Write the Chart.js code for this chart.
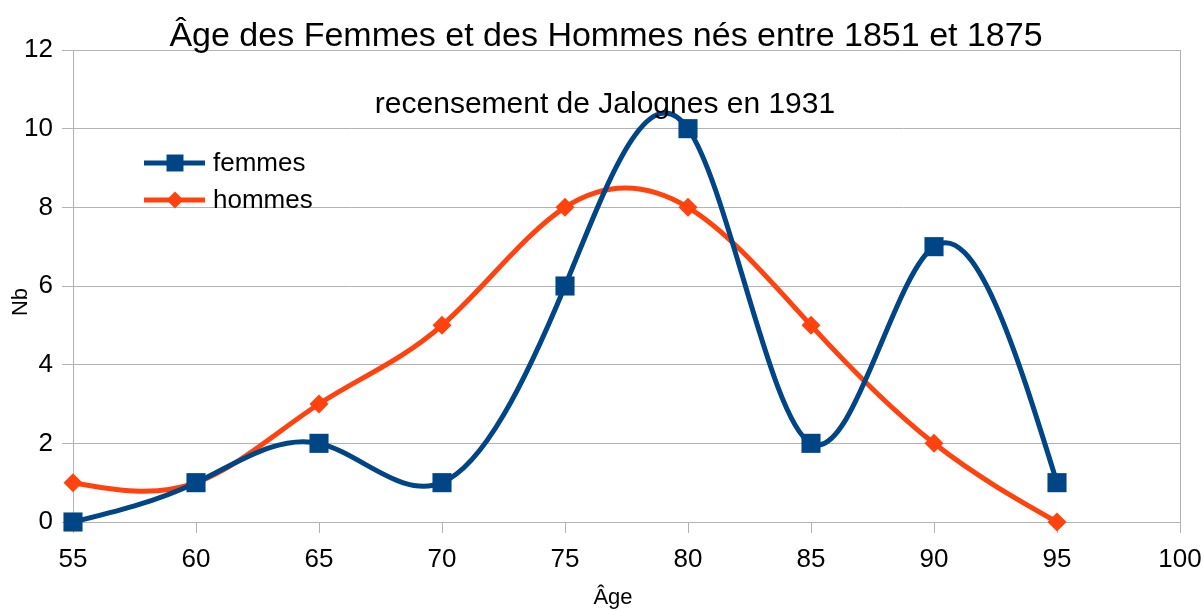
<!DOCTYPE html>
<html><head><meta charset="utf-8">
<script src="https://cdn.jsdelivr.net/npm/chart.js@4/dist/chart.umd.min.js"></script>
<style>html,body{margin:0;padding:0;background:#fff}#wrap{width:1204px;height:610px}</style>
</head><body><div id="wrap"><canvas id="c" width="1204" height="610"></canvas></div>
<script>
const ages = [55, 60, 65, 70, 75, 80, 85, 90, 95];
const femmes = [0, 1, 2, 1, 6, 10, 2, 7, 1];
const hommes = [1, 1, 3, 5, 8, 8, 5, 2, 0];
const xTicks = [55, 60, 65, 70, 75, 80, 85, 90, 95, 100];
const yTicks = [0, 2, 4, 6, 8, 10, 12];
const title = "Âge des Femmes et des Hommes nés entre 1851 et 1875";
const subtitle = "recensement de Jalognes en 1931";
const xTitle = "Âge";
const yTitle = "Nb";
const seriesNames = ["femmes", "hommes"];
const colors = ["#004586", "#ff420e"];
const FONT = "'Liberation Sans', Arial, sans-serif";
const GRID = "#b3b3b3";

const toPts = (vals) => ages.map((a, i) => ({x: a, y: vals[i]}));

// Natural cubic spline (like LibreOffice "cubic spline") applied to the
// Bezier control points of the library's own line elements.
const naturalSpline = {
  id: 'naturalSpline',
  beforeDatasetsDraw(chart) {
    chart.data.datasets.forEach((ds, di) => {
      const meta = chart.getDatasetMeta(di);
      if (!meta.dataset) return;
      meta.dataset.updateControlPoints(chart.chartArea, 'x');
      const pts = meta.data;
      const n = pts.length;
      if (n < 3) return;
      const X = pts.map(p => p.x), Y = pts.map(p => p.y);
      const h = [];
      for (let i = 0; i < n - 1; i++) h.push(X[i + 1] - X[i]);
      const M = new Array(n).fill(0);
      const a = [], b = [], c = [], d = [];
      for (let i = 1; i < n - 1; i++) {
        a.push(h[i - 1]);
        b.push(2 * (h[i - 1] + h[i]));
        c.push(h[i]);
        d.push(6 * ((Y[i + 1] - Y[i]) / h[i] - (Y[i] - Y[i - 1]) / h[i - 1]));
      }
      const m = b.length;
      for (let i = 1; i < m; i++) {
        const w = a[i] / b[i - 1];
        b[i] -= w * c[i - 1];
        d[i] -= w * d[i - 1];
      }
      const sol = new Array(m);
      sol[m - 1] = d[m - 1] / b[m - 1];
      for (let i = m - 2; i >= 0; i--) sol[i] = (d[i] - c[i] * sol[i + 1]) / b[i];
      for (let i = 0; i < m; i++) M[i + 1] = sol[i];
      for (let i = 0; i < n - 1; i++) {
        const hi = h[i];
        const s = (Y[i + 1] - Y[i]) / hi;
        const d0 = s - hi * (2 * M[i] + M[i + 1]) / 6;
        const d1 = s + hi * (M[i] + 2 * M[i + 1]) / 6;
        pts[i].cp2x = X[i] + hi / 3;
        pts[i].cp2y = Y[i] + d0 * hi / 3;
        pts[i + 1].cp1x = X[i + 1] - hi / 3;
        pts[i + 1].cp1y = Y[i + 1] - d1 * hi / 3;
      }
      pts[0].cp1x = X[0]; pts[0].cp1y = Y[0];
      pts[n - 1].cp2x = X[n - 1]; pts[n - 1].cp2y = Y[n - 1];
    });
  }
};

const deco = {
  id: 'deco',
  afterDraw(chart) {
    const ctx = chart.ctx;
    ctx.save();
    ctx.fillStyle = '#000';
    ctx.textAlign = 'center';
    ctx.textBaseline = 'alphabetic';
    ctx.font = '34px ' + FONT;
    ctx.fillText(title, 606, 46);
    ctx.font = '30px ' + FONT;
    ctx.fillText(subtitle, 605, 113);
    ctx.font = '22px ' + FONT;
    ctx.textBaseline = 'middle';
    ctx.fillText(xTitle, 613, 598);
    ctx.save();
    ctx.translate(21, 302);
    ctx.rotate(-Math.PI / 2);
    ctx.fillText(yTitle, 0, 0);
    ctx.restore();
    const items = [{y: 163, style: 'rect', r: 12}, {y: 200, style: 'rectRot', r: 8.5}];
    items.forEach((it, i) => {
      ctx.strokeStyle = colors[i];
      ctx.lineWidth = 5;
      ctx.beginPath();
      ctx.moveTo(144, it.y);
      ctx.lineTo(205, it.y);
      ctx.stroke();
      ctx.fillStyle = colors[i];
      Chart.helpers.drawPoint(ctx, {pointStyle: it.style, radius: it.r, borderWidth: 0, rotation: 0}, 175, it.y);
      ctx.fillStyle = '#000';
      ctx.textAlign = 'left';
      ctx.textBaseline = 'middle';
      ctx.font = '26px ' + FONT;
      ctx.fillText(seriesNames[i], 213, it.y + 1);
    });
    ctx.restore();
  }
};

new Chart(document.getElementById('c'), {
  type: 'line',
  data: {
    datasets: [
      {label: seriesNames[0], data: toPts(femmes), borderColor: colors[0], backgroundColor: colors[0], clip: false,
       borderWidth: 5, tension: 0.4, pointStyle: 'rect', pointRadius: 13.5, pointBorderWidth: 0, pointHoverRadius: 13.5},
      {label: seriesNames[1], data: toPts(hommes), borderColor: colors[1], backgroundColor: colors[1], clip: false,
       borderWidth: 5, tension: 0.4, pointStyle: 'rectRot', pointRadius: 9.5, pointBorderWidth: 0, pointHoverRadius: 9.5}
    ]
  },
  options: {
    responsive: false,
    animation: false,
    devicePixelRatio: 1,
    layout: {padding: {left: 0, right: 24, top: 50, bottom: 0}},
    plugins: {legend: {display: false}, tooltip: {enabled: false}},
    scales: {
      x: {
        type: 'linear', min: 55, max: 100,
        afterBuildTicks: (s) => { s.ticks = xTicks.map(v => ({value: v})); },
        afterFit: (s) => { s.height = 88; s.paddingRight = 0; s.paddingLeft = 0; },
        grid: {
          drawOnChartArea: true,
          color: (c) => (c.tick && (c.tick.value === 100)) ? GRID : 'rgba(0,0,0,0)',
          tickColor: GRID, tickLength: 11, lineWidth: 1
        },
        border: {display: true, color: GRID},
        ticks: {color: '#000', font: {family: FONT, size: 26}, padding: 11, maxRotation: 0, autoSkip: false},
        title: {display: false}
      },
      y: {
        min: 0, max: 12,
        afterBuildTicks: (s) => { s.ticks = yTicks.map(v => ({value: v})); },
        afterFit: (s) => { s.width = 73; s.paddingTop = 0; s.paddingBottom = 0; },
        grid: {color: GRID, tickColor: GRID, tickLength: 11, lineWidth: 1},
        border: {display: true, color: GRID},
        ticks: {color: '#000', font: {family: FONT, size: 26}, padding: 9},
        title: {display: false}
      }
    }
  },
  plugins: [naturalSpline, deco]
});
</script>
</body></html>
